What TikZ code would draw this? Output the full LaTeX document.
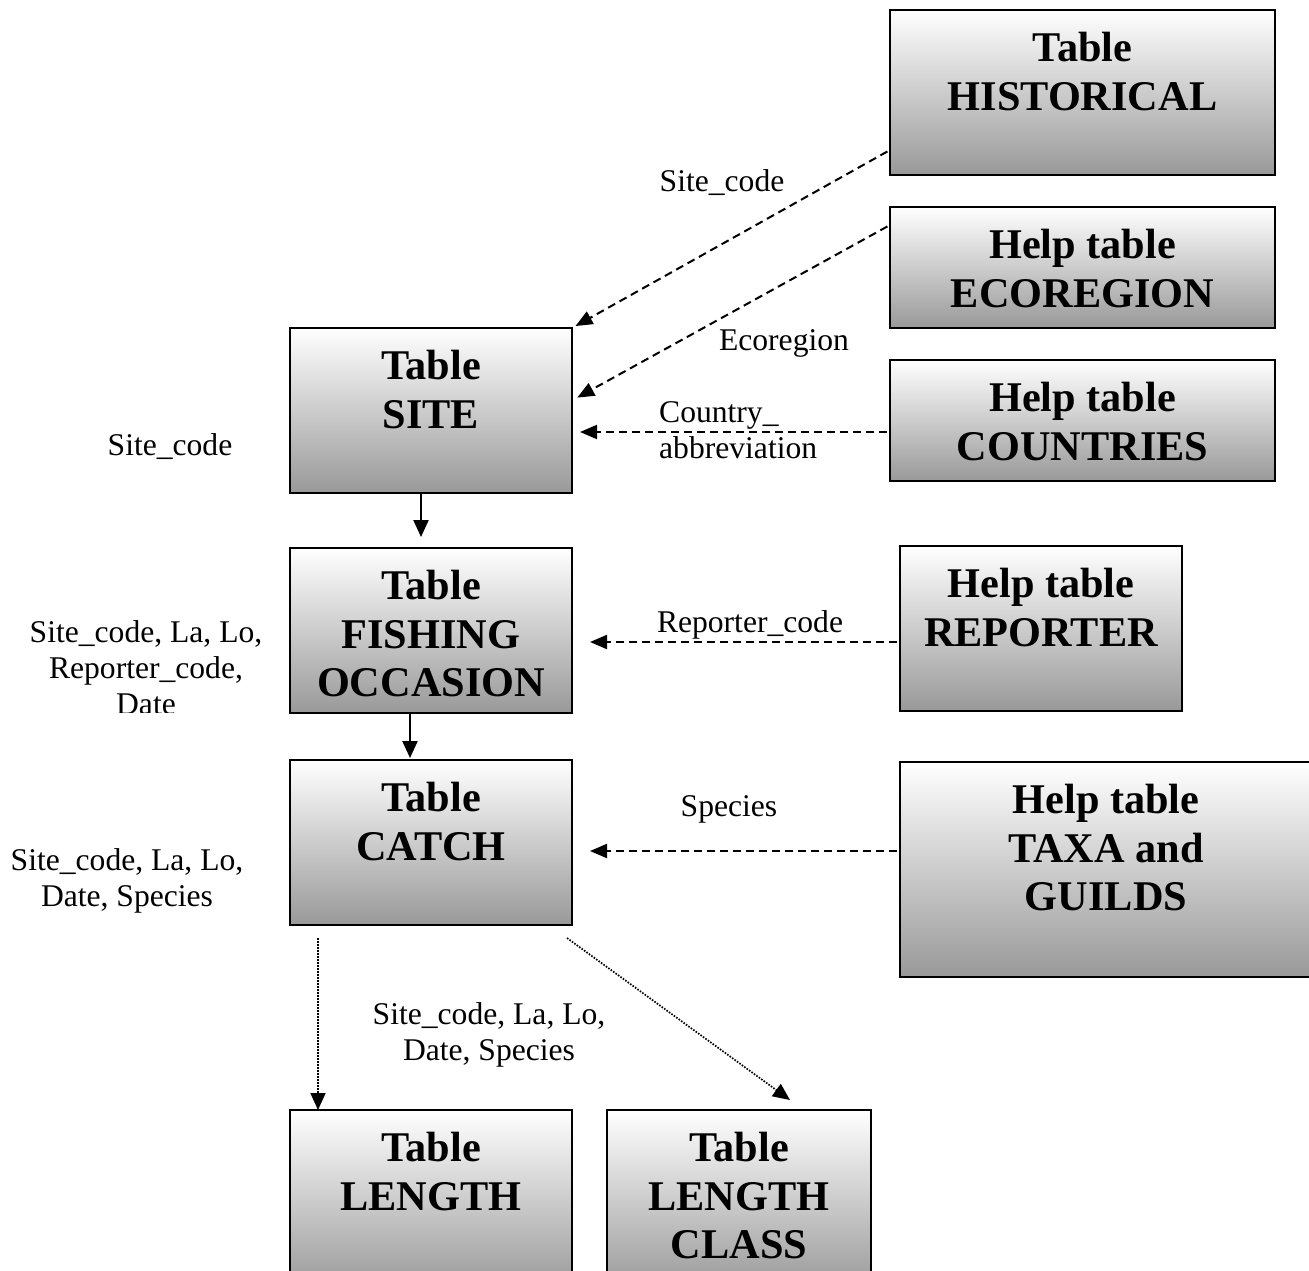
\documentclass[tikz,border=0pt]{standalone}
\usepackage{fontspec}
\setmainfont{Liberation Serif}
\usetikzlibrary{arrows.meta,positioning,calc}
\tikzset{
  tbl/.style={draw=black,line width=1.6pt,top color=white,bottom color=black!40,inner sep=0pt,outer sep=0pt},
  ttl/.style={align=center,inner sep=0pt,font=\fontsize{42.3}{48.5}\selectfont\bfseries},
  key/.style={align=center,inner sep=0pt,font=\fontsize{31.6}{36}\selectfont},
  dep/.style={-{Triangle[length=17pt,width=14pt]},line width=2pt,dash pattern=on 8pt off 5pt},
  sub/.style={-{Triangle[length=17pt,width=15pt]},line width=1.7pt,dash pattern=on 1.6pt off 1.4pt},
  link/.style={-{Triangle[length=17pt,width=15pt]},line width=2.2pt}
}

\begin{document}
\begin{tikzpicture}[x=1pt,y=-1pt,node distance=22pt]
    \useasboundingbox (0,0) rectangle (1309,1271);
    % tables
    \node[tbl,minimum width=385,minimum height=165] (hist) at (1082.5,92.5) {};
    \node[tbl,minimum width=385,minimum height=121] (eco) at (1082.5,267.5) {};
    \node[tbl,minimum width=385,minimum height=121] (cty) at (1082.5,420.5) {};
    \node[tbl,minimum width=282,minimum height=165] (site) at (431,410.5) {};
    \node[tbl,minimum width=282,minimum height=165] (fish) at (431,630.5) {};
    \node[tbl,minimum width=282,minimum height=165] (rep) at (1041,628.5) {};
    \node[tbl,minimum width=282,minimum height=165] (catch) at (431,842.5) {};
    \node[tbl,minimum width=412,minimum height=215] (taxa) at (1106,869.5) {};
    \node[tbl,minimum width=282,minimum height=180] (len) at (431,1200) {};
    \node[tbl,minimum width=264,minimum height=180] (lcls) at (739,1200) {};
    % titles
    \node[ttl,below=of hist.north] (histT) {Table\\HISTORICAL};
    \node[ttl,below=of eco.north] (ecoT) {Help table\\ECOREGION};
    \node[ttl,below=of cty.north] (ctyT) {Help table\\COUNTRIES};
    \node[ttl,below=of site.north] (siteT) {Table\\SITE};
    \node[ttl,below=of fish.north] (fishT) {Table\\FISHING\\OCCASION};
    \node[ttl,below=of rep.north] (repT) {Help table\\REPORTER};
    \node[ttl,below=of catch.north] (catchT) {Table\\CATCH};
    \node[ttl,below=of taxa.north] (taxaT) {Help table\\TAXA and\\GUILDS};
    \node[ttl,below=of len.north] (lenT) {Table\\LENGTH};
    \node[ttl,below=of lcls.north] (lclsT) {Table\\LENGTH\\CLASS};
    % keys
    \node[key] (kHist) at (722,183) {Site\_code};
    \node[key] (kEco) at (784,343) {Ecoregion};
    \node[key,align=left,anchor=west] (kCty) at (659,430) {Country\_\\abbreviation};
    \node[key] (kSite) at (170,447) {Site\_code};
    \begin{scope}
      \clip (0,540) rectangle (290,712);
      \node[key] (kFish) at (146,668) {Site\_code, La, Lo,\\Reporter\_code,\\Date};
    \end{scope}
    \node[key] (kRep) at (750,625) {Reporter\_code};
    \node[key] (kTaxa) at (729,809) {Species};
    \node[key] (kCatch) at (127,881) {Site\_code, La, Lo,\\Date, Species};
    \node[key] (kLen) at (489,1035) {Site\_code, La, Lo,\\Date, Species};
    % links
    \draw[dep,shorten <=3pt,shorten >=4pt] ([yshift=-57.5pt]hist.west) -- (site.north east);
    \draw[dep,shorten <=3pt,shorten >=6pt] ([yshift=42.5pt]eco.west) -- ([yshift=10pt]site.east);
    \draw[dep,shorten <=3pt,shorten >=8pt] ([yshift=-11.5pt]cty.west) -- ([yshift=-21.5pt]site.east);
    \draw[dep,shorten <=3pt,shorten >=18pt] ([yshift=-13.5pt]rep.west) -- ([yshift=-11.5pt]fish.east);
    \draw[dep,shorten <=3pt,shorten >=18pt] ([yshift=18.5pt]taxa.west) -- ([yshift=-8.5pt]catch.east);
    \draw[link,shorten >=11pt] ([xshift=-10pt]site.south) -- ([xshift=-10pt]fish.north);
    \draw[link,shorten >=2pt] ([xshift=-21pt]fish.south) -- ([xshift=-21pt]catch.north);
    \draw[sub] ([shift={(28pt,-13pt)}]catch.south west) -- ([xshift=28pt]len.north west);
    \draw[sub] ([shift={(-5pt,-13pt)}]catch.south east) -- ([shift={(183pt,10pt)}]lcls.north west);
\end{tikzpicture}
\end{document}
